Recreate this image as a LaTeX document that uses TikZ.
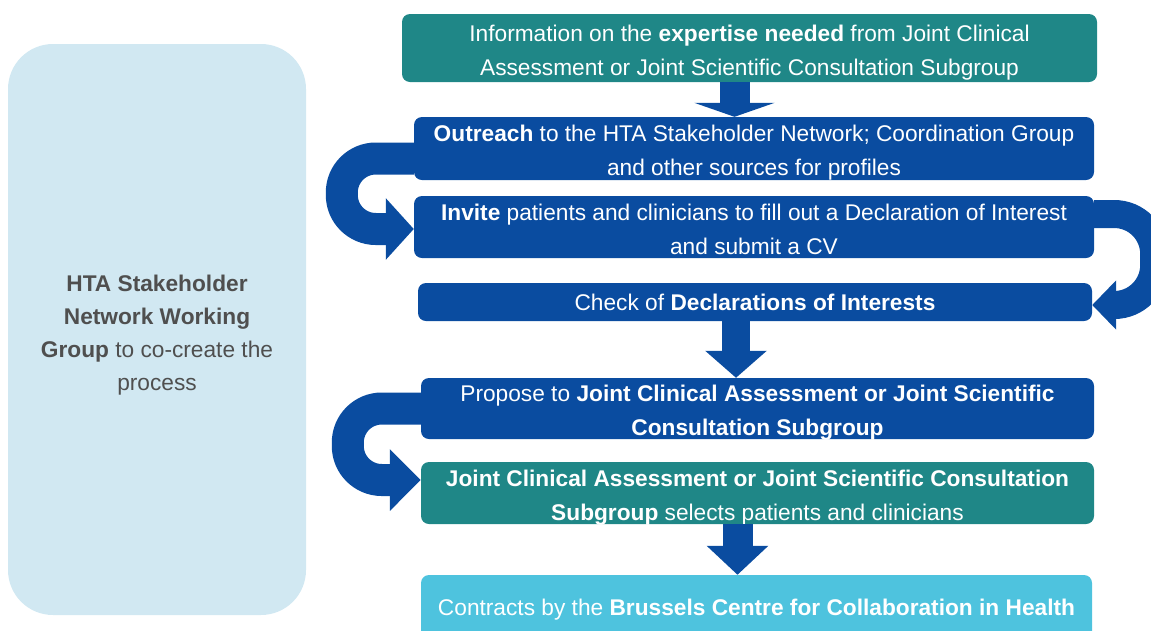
\documentclass[tikz,border=0pt]{standalone}
\usepackage{fontspec}
\setmainfont{Liberation Sans}
\usetikzlibrary{arrows.meta}
\definecolor{teal}{RGB}{31,135,135}
\definecolor{navy}{RGB}{10,76,160}
\definecolor{sky}{RGB}{78,195,222}
\definecolor{pale}{RGB}{209,232,242}
\definecolor{ink}{RGB}{79,79,79}
% extra room above the first line, no depth below the last one
\newcommand\lift[1]{\rule{0pt}{#1}}
\newcommand\nodepth[1]{\raisebox{0pt}[\height][0pt]{#1}}

\begin{document}
\begin{tikzpicture}[x=1pt,y=-1pt,
 box/.style={rounded corners=8pt,align=center,text=white,inner sep=0pt,
  font=\fontsize{22.7}{34}\selectfont},
 flow/.style={draw=navy,line width=#1},
 uturn/.style={draw=navy,line width=#1,rounded corners=34pt}]
\useasboundingbox (0,0) rectangle (1151,630);
\clip (0,0) rectangle (1151,630);
% working group on the left
\node[box,fill=pale,text=ink,rounded corners=45pt,minimum width=298pt,minimum height=571pt,
 font=\fontsize{22.7}{33}\selectfont] (wg) at (157,329.5)
 {\lift{28.5pt}\textbf{HTA Stakeholder}\\\textbf{Network Working}\\\textbf{Group} to co-create the\\process};
% process steps
\node[box,fill=teal,minimum width=695pt,minimum height=68pt] (info) at (749.5,48)
 {\lift{20.7pt}Information on the \textbf{expertise needed} from Joint Clinical\\\nodepth{Assessment or Joint Scientific Consultation Subgroup}};
\node[box,fill=navy,minimum width=680pt,minimum height=63pt] (outreach) at (754,148.5)
 {\lift{20.7pt}\textbf{Outreach} to the HTA Stakeholder Network; Coordination Group\\\nodepth{and other sources for profiles}};
\node[box,fill=navy,minimum width=680pt,minimum height=62pt] (invite) at (754,227)
 {\lift{20.7pt}\textbf{Invite} patients and clinicians to fill out a Declaration of Interest\\\nodepth{and submit a CV}};
\node[box,fill=navy,minimum width=674pt,minimum height=38pt] (check) at (755,302)
 {Check of \textbf{Declarations of Interests}};
\node[box,fill=navy,minimum width=673pt,minimum height=61pt] (propose) at (757.5,408.5)
 {\lift{20.7pt}Propose to \textbf{Joint Clinical Assessment or Joint Scientific}\\\nodepth{\textbf{Consultation Subgroup}}};
\node[box,fill=teal,minimum width=673pt,minimum height=62pt] (jca) at (757.5,493)
 {\lift{20.7pt}\textbf{Joint Clinical Assessment or Joint Scientific Consultation}\\\nodepth{\textbf{Subgroup} selects patients and clinicians}};
\node[box,fill=sky,minimum width=671pt,minimum height=70pt,text depth=0pt] (contracts) at (756.5,610)
 {\raisebox{6pt}{Contracts by the \textbf{Brussels Centre for Collaboration in Health}}};
% straight block arrows
\draw[flow=30pt,-{Triangle[length=14pt,width=80pt]}] ([xshift=-15pt]info.south) -- ([xshift=-15pt]info.south |- outreach.north);
\draw[flow=28pt,-{Triangle[length=27pt,width=60pt]}] ([xshift=-19pt]check.south) -- ([xshift=-19pt]check.south |- propose.north);
\draw[flow=30pt,-{Triangle[length=29pt,width=60pt]}] ([xshift=-20pt]jca.south) -- ([xshift=-20pt]jca.south |- contracts.north);
% u-turn arrows
\draw[uturn=32pt,-{Triangle[length=28pt,width=60pt]}] ([yshift=-10pt]outreach.west) -- ++(-72,0) |- ([yshift=-2pt]invite.west);
\draw[uturn=28pt,rounded corners=40pt,-{Triangle[length=24pt,width=48pt]}] ([yshift=13pt]invite.east) -- ++(60,0) |- ([yshift=-3pt]check.east);
\draw[uturn=32pt,-{Triangle[length=31pt,width=60pt]}] (propose.west) -- ++(-73,0) |- ([yshift=13pt]jca.west);
\end{tikzpicture}
\end{document}
